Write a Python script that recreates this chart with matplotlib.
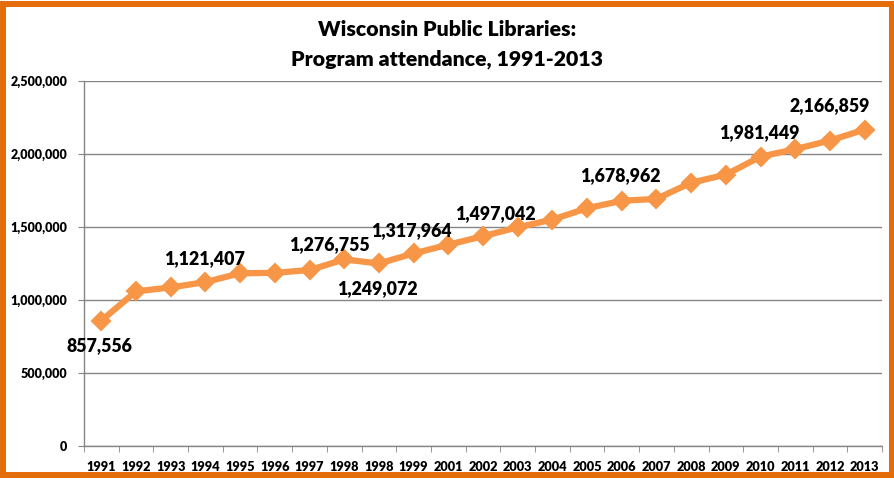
import matplotlib.pyplot as plt
from matplotlib.patches import Rectangle
from matplotlib.ticker import FuncFormatter, FixedLocator

# categories as printed on the original chart (1998 twice, no 2000)
years = ["1991", "1992", "1993", "1994", "1995", "1996", "1997", "1998",
         "1998", "1999", "2001", "2002", "2003", "2004", "2005", "2006",
         "2007", "2008", "2009", "2010", "2011", "2012", "2013"]
attendance = [857556, 1058000, 1085000, 1121407, 1182000, 1185000, 1204000,
              1276755, 1249072, 1317964, 1378000, 1436000, 1497042, 1550000,
              1628000, 1678962, 1692000, 1803000, 1858000, 1981449, 2033000,
              2092000, 2166859]

# which points carry a data label, and where the label sits (pixels from point)
labelled = [0, 3, 7, 8, 9, 12, 15, 19, 22]
label_offsets = [(-2, -25), (-1, 24), (-15, 15), (-2, -25), (-2, 23),
                 (-22, 14), (-1, 25), (-1, 24), (-35, 24)]

LINE = "#F79646"
FRAME = "#E46C0A"
GRID = "#868686"

plt.rcParams["font.family"] = ["Lato", "DejaVu Sans"]

fig = plt.figure(figsize=(8.95, 4.82), dpi=100)
ax = fig.add_axes([84 / 895, 1 - 445.7 / 482, 798 / 895, (445.7 - 81) / 482])

x = list(range(len(years)))
ax.plot(x, attendance, color=LINE, lw=4.5, marker="D", ms=8.8,
        mec=LINE, mfc=LINE, mew=1.5, solid_joinstyle="round", zorder=3)

for idx, (dx, dy) in zip(labelled, label_offsets):
    ax.annotate(f"{attendance[idx]:,}", (idx, attendance[idx]),
                xytext=(dx, dy), textcoords="offset pixels",
                ha="center", va="center", fontsize=12.8, fontweight=800,
                color="black", zorder=4)

ax.set_xlim(-0.5, len(years) - 0.5)
ax.set_ylim(0, 2500000)
ax.set_yticks(range(0, 2500001, 500000))
ax.yaxis.set_major_formatter(FuncFormatter(lambda v, p: f"{int(v):,}"))
ax.set_xticks(x)
ax.set_xticklabels(years)
ax.xaxis.set_minor_locator(FixedLocator([i - 0.5 for i in range(len(years) + 1)]))

ax.grid(axis="y", color=GRID, lw=1)
ax.set_axisbelow(True)
for side in ("top", "right"):
    ax.spines[side].set_visible(False)
for side in ("left", "bottom"):
    ax.spines[side].set_color(GRID)
    ax.spines[side].set_linewidth(1)

ax.tick_params(axis="y", length=4, color=GRID, pad=8, labelsize=9)
ax.tick_params(axis="x", which="major", length=0, pad=11, labelsize=9.2)
ax.tick_params(axis="x", which="minor", length=4, color=GRID)
for lab in ax.get_xticklabels() + ax.get_yticklabels():
    lab.set_fontweight(800)

fig.text(0.5, 1 - 30 / 482, "Wisconsin Public Libraries:", ha="center",
         va="center", fontsize=15.3, fontweight=800)
fig.text(0.5, 1 - 59 / 482, "Program attendance, 1991-2013", ha="center",
         va="center", fontsize=15.3, fontweight=800)

# orange chart frame
fig.patches.append(Rectangle((3 / 895, 1 - 475 / 482), 889 / 895, 471 / 482,
                             transform=fig.transFigure, fill=False,
                             edgecolor=FRAME, lw=4.3))

fig.savefig("out.png", dpi=100)
